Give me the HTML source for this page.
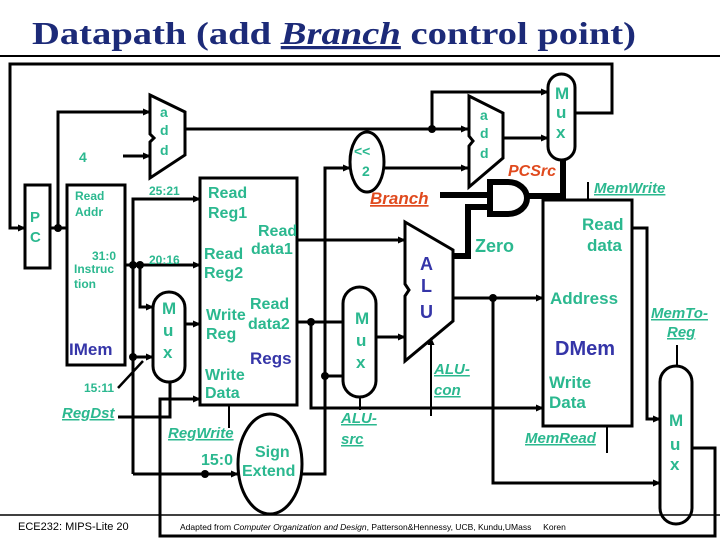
<!DOCTYPE html>
<html><head><style>
body{margin:0;background:#fff}
svg{display:block}
text{font-family:"Liberation Sans",Arial,sans-serif;font-weight:bold;fill:#2bb88f}
.b{fill:#3535a8}
.r{fill:#e04a1e;font-style:italic}
.i{font-style:italic;text-decoration:underline}
</style></head><body>
<svg width="720" height="540" viewBox="0 0 720 540">
<defs><marker id="a" markerWidth="8" markerHeight="8" refX="7" refY="4" orient="auto" markerUnits="userSpaceOnUse"><path d="M0,0.5L8,4L0,7.5z" fill="#000"/></marker></defs>
<text x="32" y="44" textLength="604" lengthAdjust="spacingAndGlyphs" style="font-family:'Liberation Serif',serif;font-size:32px;fill:#1c2a78">Datapath (add <tspan font-style="italic" text-decoration="underline">Branch</tspan> control point)</text>
<line x1="0" y1="56" x2="720" y2="56" stroke="#000" stroke-width="2"/>
<line x1="0" y1="515" x2="720" y2="515" stroke="#000" stroke-width="1.5"/>
<text x="18" y="530" style="font-weight:normal;fill:#000;font-size:11px">ECE232: MIPS-Lite 20</text>
<text x="180" y="530" style="font-weight:normal;fill:#000;font-size:8.5px">Adapted from <tspan font-style="italic">Computer Organization and Design</tspan>, Patterson&amp;Hennessy, UCB, Kundu,UMass &#160;&#160;&#160;&#160;Koren</text>
<g fill="none" stroke="#000" stroke-width="3">
<polyline points="575,113 612,113 612,64 10,64 10,228 25,228" marker-end="url(#a)"/>
<rect x="25" y="185" width="25" height="83"/>
<rect x="67" y="185" width="58" height="180"/>
<line x1="50" y1="228" x2="67" y2="228"/>
<polyline points="58,228 58,112 150,112" marker-end="url(#a)"/>
<line x1="123" y1="156" x2="150" y2="156" marker-end="url(#a)"/>
<polygon points="150,95 185,112 185,155 150,178 150,142 154,138 150,134"/>
<polyline points="185,129 468,129" marker-end="url(#a)"/>
<polyline points="432,129 432,92 548,92" marker-end="url(#a)"/>
<polygon points="469,96 503,113 503,158 469,187 469,146 473,141 469,136"/>
<line x1="503" y1="138" x2="548" y2="138" marker-end="url(#a)"/>
<rect x="548" y="74" width="27" height="86" rx="13.5"/>
<ellipse cx="367" cy="162" rx="17" ry="30"/>
<line x1="384" y1="168" x2="468" y2="168" marker-end="url(#a)"/>
<polyline points="302,474 325,474 325,168 350,168" marker-end="url(#a)"/>
<line x1="125" y1="265" x2="200" y2="265" marker-end="url(#a)"/>
<polyline points="133,474 133,199 200,199" marker-end="url(#a)"/>
<polyline points="140,265 140,307 153,307" marker-end="url(#a)"/>
<line x1="133" y1="357" x2="153" y2="357" marker-end="url(#a)"/>
<line x1="118" y1="388" x2="143" y2="361" stroke-width="2.5"/>
<line x1="133" y1="474" x2="238" y2="474" marker-end="url(#a)"/>
<rect x="153" y="292" width="32" height="90" rx="16"/>
<line x1="185" y1="324" x2="200" y2="324" marker-end="url(#a)"/>
<polyline points="118,417 170,417 170,382"/>
<rect x="200" y="178" width="97" height="227"/>
<line x1="229" y1="405" x2="229" y2="428" stroke-width="2"/>
<ellipse cx="270" cy="464" rx="32" ry="50"/>
<polyline points="692,448 715,448 715,536 160,536 160,399 200,399" marker-end="url(#a)"/>
<line x1="297" y1="240" x2="405" y2="240" marker-end="url(#a)"/>
<line x1="297" y1="322" x2="343" y2="322"/>
<polyline points="311,322 311,408 543,408" marker-end="url(#a)"/>
<line x1="325" y1="376" x2="343" y2="376"/>
<rect x="343" y="287" width="33" height="110" rx="16.5"/>
<line x1="376" y1="337" x2="405" y2="337" marker-end="url(#a)"/>
<line x1="360" y1="397" x2="360" y2="410" stroke-width="2"/>
<polygon points="405,222 453,250 453,321 405,361 405,296 409,290 405,284"/>
<line x1="431" y1="416" x2="431" y2="338" stroke-width="2" marker-end="url(#a)"/>
<line x1="453" y1="298" x2="543" y2="298" marker-end="url(#a)"/>
<polyline points="493,298 493,483 660,483" marker-end="url(#a)"/>
<polyline points="453,256 468,256 468,207 490,207" stroke-width="6"/>
<line x1="440" y1="195" x2="490" y2="195" stroke-width="6"/>
<path d="M490,182 L508,182 A19,16 0 0 1 508,214 L490,214 Z" stroke-width="6"/>
<polyline points="527,196 563,196 563,160" stroke-width="6"/>
<rect x="543" y="200" width="89" height="226"/>
<line x1="588" y1="182" x2="588" y2="200" stroke-width="2"/>
<line x1="607" y1="426" x2="607" y2="453" stroke-width="2"/>
<polyline points="632,228 647,228 647,419 660,419" marker-end="url(#a)"/>
<rect x="660" y="366" width="32" height="158" rx="16"/>
<line x1="677" y1="345" x2="677" y2="366" stroke-width="2"/>
</g>
<g fill="#000">
<circle cx="58" cy="228" r="4"/><circle cx="432" cy="129" r="4"/><circle cx="133" cy="265" r="4"/><circle cx="140" cy="265" r="4"/>
<circle cx="133" cy="357" r="4"/><circle cx="205" cy="474" r="4"/><circle cx="311" cy="322" r="4"/><circle cx="325" cy="376" r="4"/><circle cx="493" cy="298" r="4"/>
</g>
<g font-size="15">
<text x="160" y="117" font-size="14">a</text><text x="160" y="135" font-size="14">d</text><text x="160" y="155" font-size="14">d</text>
<text x="480" y="120" font-size="14">a</text><text x="480" y="138" font-size="14">d</text><text x="480" y="158" font-size="14">d</text>
<text x="555" y="99" font-size="17">M</text><text x="556" y="118" font-size="17">u</text><text x="556" y="138" font-size="17">x</text>
<text x="79" y="162" font-size="14">4</text>
<text x="30" y="222" font-size="15">P</text><text x="30" y="242" font-size="15">C</text>
<text x="75" y="200" font-size="12">Read</text><text x="75" y="216" font-size="12">Addr</text>
<text x="92" y="260" font-size="12">31:0</text><text x="74" y="273" font-size="12">Instruc</text><text x="74" y="288" font-size="12">tion</text>
<text x="69" y="355" font-size="17" class="b">IMem</text>
<text x="84" y="392" font-size="12">15:11</text>
<text x="62" y="418" class="i">RegDst</text>
<text x="149" y="195" font-size="12">25:21</text><text x="149" y="264" font-size="12">20:16</text>
<text x="162" y="314" font-size="17">M</text><text x="163" y="336" font-size="17">u</text><text x="163" y="358" font-size="17">x</text>
<text x="208" y="198" font-size="16">Read</text><text x="208" y="218" font-size="16">Reg1</text>
<text x="258" y="236" font-size="16">Read</text><text x="251" y="254" font-size="16">data1</text>
<text x="204" y="259" font-size="16">Read</text><text x="204" y="278" font-size="16">Reg2</text>
<text x="250" y="309" font-size="16">Read</text><text x="248" y="329" font-size="16">data2</text>
<text x="206" y="320" font-size="16">Write</text><text x="206" y="339" font-size="16">Reg</text>
<text x="250" y="364" font-size="17" class="b">Regs</text>
<text x="205" y="380" font-size="16">Write</text><text x="205" y="398" font-size="16">Data</text>
<text x="168" y="438" class="i">RegWrite</text>
<text x="201" y="465" font-size="16">15:0</text>
<text x="255" y="457" font-size="16">Sign</text><text x="242" y="476" font-size="16">Extend</text>
<text x="354" y="156" font-size="14">&lt;&lt;</text><text x="362" y="176" font-size="14">2</text>
<text x="370" y="204" font-size="17" class="r" text-decoration="underline">Branch</text>
<text x="508" y="176" font-size="16" class="r">PCSrc</text>
<text x="594" y="193" class="i">MemWrite</text>
<text x="475" y="252" font-size="18">Zero</text>
<text x="420" y="270" font-size="18" class="b">A</text><text x="421" y="292" font-size="18" class="b">L</text><text x="420" y="318" font-size="18" class="b">U</text>
<text x="355" y="324" font-size="17">M</text><text x="356" y="346" font-size="17">u</text><text x="356" y="368" font-size="17">x</text>
<text x="434" y="374" class="i">ALU-</text><text x="434" y="395" class="i">con</text>
<text x="341" y="423" class="i">ALU-</text><text x="341" y="444" class="i">src</text>
<text x="582" y="230" font-size="17">Read</text><text x="587" y="251" font-size="17">data</text>
<text x="550" y="304" font-size="17">Address</text>
<text x="555" y="355" font-size="20" class="b">DMem</text>
<text x="549" y="388" font-size="17">Write</text><text x="549" y="408" font-size="17">Data</text>
<text x="525" y="443" class="i">MemRead</text>
<text x="651" y="318" class="i">MemTo-</text><text x="667" y="337" class="i">Reg</text>
<text x="669" y="426" font-size="17">M</text><text x="670" y="450" font-size="17">u</text><text x="670" y="470" font-size="17">x</text>
</g>
</svg>
</body></html>
